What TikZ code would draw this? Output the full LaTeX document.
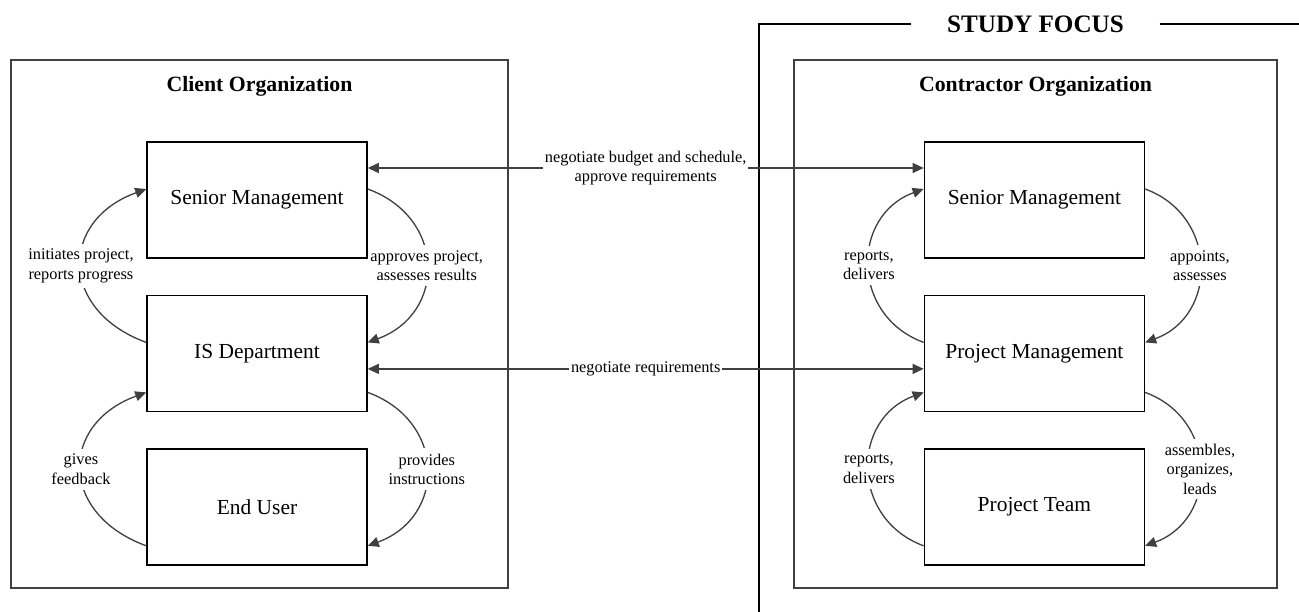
\documentclass[tikz,border=0pt]{standalone}
\usepackage{fontspec}
\setmainfont{Liberation Serif}
\definecolor{linegray}{RGB}{64,64,64}
\usepackage{tikz}
\usetikzlibrary{arrows.meta, positioning}

\begin{document}
\begin{tikzpicture}[
  box/.style={draw, line width=0.8pt, minimum width=4.4cm, minimum height=2.32cm, align=center, font=\fontsize{12.2}{14}\selectfont},
  org/.style={draw=linegray, line width=0.8pt, minimum height=10.56cm},
  title/.style={font=\bfseries\fontsize{12.4}{15}\selectfont},
  arr/.style={-{Triangle[length=6.3pt, width=5.7pt]}, line width=0.75pt, linegray, looseness=1.4},
  dbl/.style={{Triangle[length=6.3pt, width=5.7pt]}-{Triangle[length=6.3pt, width=5.7pt]}, line width=0.75pt, linegray},
  lbl/.style={fill=white, align=center, text=black, inner xsep=1pt, inner ysep=3pt, font=\fontsize{9.3}{11}\selectfont}
]
  \useasboundingbox (0,0) rectangle (25.98,12.24);

  % study focus bracket
  \node[font=\bfseries\fontsize{14.3}{17}\selectfont, inner xsep=0.71cm] (focus) at (20.71,11.76) {STUDY FOCUS};
  \draw[line width=0.8pt] (focus.east) -- (25.98,11.76);
  \draw[line width=0.8pt] (focus.west) -| (15.18,0);

  % organizations
  \node[org, minimum width=9.94cm] (client) at (5.19,5.76) {};
  \node[org, minimum width=9.66cm] (contractor) at (20.71,5.76) {};
  \node[title] (ctitle) at ([yshift=-0.54cm]client.north) {Client Organization};
  \node[title] (ktitle) at ([yshift=-0.54cm]contractor.north) {Contractor Organization};

  % client side
  \node[box] (csm) at (5.14,8.24) {Senior Management};
  \node[box, below=0.72cm of csm] (cis) {IS Department};
  \node[box, below=0.72cm of cis] (cu) {End User};

  % contractor side
  \node[box, right=11.12cm of csm] (ksm) {Senior Management};
  \node[box, below=0.72cm of ksm] (kpm) {Project Management};
  \node[box, below=0.72cm of kpm] (kpt) {Project Team};

  \draw[arr, looseness=1.55] ([yshift=0.22cm]cis.west) to[out=160, in=200] node[lbl] {initiates project,\\reports progress} ([yshift=0.22cm]csm.west);
  \draw[arr] ([yshift=0.22cm]csm.east) to[out=-20, in=20] node[lbl] {approves project,\\assesses results} ([yshift=0.22cm]cis.east);
  \draw[arr, looseness=1.55] ([yshift=-0.78cm]cu.west) to[out=160, in=200] node[lbl] {gives\\feedback} ([yshift=-0.78cm]cis.west);
  \draw[arr] ([yshift=-0.78cm]cis.east) to[out=-20, in=20] node[lbl] {provides\\instructions} ([yshift=-0.78cm]cu.east);

  \draw[arr, looseness=1.3] ([yshift=0.22cm]kpm.west) to[out=160, in=200] node[lbl] {reports,\\delivers} ([yshift=0.22cm]ksm.west);
  \draw[arr, looseness=1.3] ([yshift=0.22cm]ksm.east) to[out=-20, in=20] node[lbl] {appoints,\\assesses} ([yshift=0.22cm]kpm.east);
  \draw[arr, looseness=1.3] ([yshift=-0.78cm]kpt.west) to[out=160, in=200] node[lbl] {reports,\\delivers} ([yshift=-0.78cm]kpm.west);
  \draw[arr, looseness=1.3] ([yshift=-0.78cm]kpm.east) to[out=-20, in=20] node[lbl] {assembles,\\organizes,\\leads} ([yshift=-0.78cm]kpt.east);

  % between organizations
  \draw[dbl] ([yshift=0.64cm]csm.east) -- node[lbl] {negotiate budget and schedule,\\approve requirements} ([yshift=0.64cm]ksm.west);
  \draw[dbl] ([yshift=-0.31cm]cis.east) -- node[lbl] {negotiate requirements} ([yshift=-0.31cm]kpm.west);
\end{tikzpicture}
\end{document}
